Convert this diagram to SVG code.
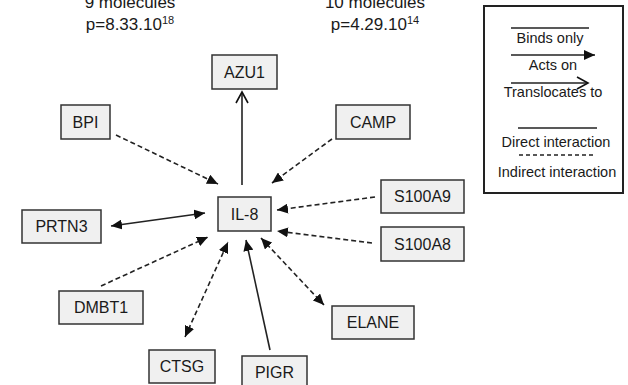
<svg xmlns="http://www.w3.org/2000/svg" width="628" height="385" viewBox="0 0 628 385">
<defs>
<style>
.box{fill:#f0f0f0;stroke:#333;stroke-width:1.5}
.lbl{font-family:"Liberation Sans",Arial,sans-serif;font-size:16px;fill:#1a1a1a;text-anchor:middle}
.hdr{font-family:"Liberation Sans",Arial,sans-serif;font-size:17px;fill:#1a1a1a;text-anchor:middle}
.leg{font-family:"Liberation Sans",Arial,sans-serif;font-size:14.5px;fill:#1a1a1a;text-anchor:middle}
.ln{fill:none;stroke:#222;stroke-width:1.6}
.dash{stroke-dasharray:5,3}
</style>
<marker id="fa" markerWidth="12" markerHeight="10" refX="11" refY="5" orient="auto-start-reverse" markerUnits="userSpaceOnUse">
<path d="M0,0 L11,5 L0,10 Z" fill="#111"/>
</marker>
<marker id="oa" markerWidth="14" markerHeight="14" refX="12" refY="7" orient="auto" markerUnits="userSpaceOnUse">
<path d="M1,1 L12,7 L1,13" fill="none" stroke="#111" stroke-width="1.6"/>
</marker>
</defs>
<rect width="628" height="385" fill="#fff"/>

<g id="headers">
<text class="hdr" x="130" y="8">9 molecules</text>
<text class="hdr" x="130" y="30">p=8.33.10<tspan font-size="11" dy="-6">18</tspan></text>
<text class="hdr" x="375" y="8">10 molecules</text>
<text class="hdr" x="375" y="30">p=4.29.10<tspan font-size="11" dy="-6">14</tspan></text>
</g>

<g id="connectors">
<line class="ln dash" x1="116" y1="135" x2="218" y2="184" marker-end="url(#fa)"/>
<line class="ln" x1="242" y1="185" x2="242" y2="92" marker-end="url(#oa)"/>
<line class="ln dash" x1="332" y1="139" x2="272" y2="183" marker-end="url(#fa)"/>
<line class="ln dash" x1="375" y1="197" x2="277" y2="210" marker-end="url(#fa)"/>
<line class="ln dash" x1="372" y1="243" x2="277" y2="231" marker-end="url(#fa)"/>
<line class="ln dash" x1="261" y1="238" x2="324" y2="305" marker-start="url(#fa)" marker-end="url(#fa)"/>
<line class="ln" x1="270" y1="350" x2="246" y2="240" marker-end="url(#fa)"/>
<line class="ln dash" x1="185" y1="337" x2="228" y2="242" marker-start="url(#fa)" marker-end="url(#fa)"/>
<line class="ln dash" x1="101" y1="286" x2="208" y2="237" marker-end="url(#fa)"/>
<line class="ln" x1="111" y1="226" x2="205" y2="213" marker-start="url(#fa)" marker-end="url(#fa)"/>
</g>

<g id="IL-8"><rect class="box" x="218" y="197" width="53" height="34"/><text class="lbl" x="244.5" y="219.5">IL-8</text></g>
<g id="AZU1"><rect class="box" x="212" y="55" width="65" height="34"/><text class="lbl" x="244.5" y="77.5">AZU1</text></g>
<g id="BPI"><rect class="box" x="61" y="105" width="49" height="34"/><text class="lbl" x="85.5" y="127.5">BPI</text></g>
<g id="CAMP"><rect class="box" x="336" y="105" width="74" height="34"/><text class="lbl" x="373" y="127.5">CAMP</text></g>
<g id="S100A9"><rect class="box" x="381" y="180" width="83" height="33"/><text class="lbl" x="422.5" y="202">S100A9</text></g>
<g id="S100A8"><rect class="box" x="381" y="227" width="83" height="34"/><text class="lbl" x="422.5" y="249.5">S100A8</text></g>
<g id="PRTN3"><rect class="box" x="22" y="210" width="79" height="33"/><text class="lbl" x="61.5" y="232">PRTN3</text></g>
<g id="DMBT1"><rect class="box" x="59" y="291" width="84" height="33"/><text class="lbl" x="101" y="313">DMBT1</text></g>
<g id="ELANE"><rect class="box" x="332" y="306" width="82" height="33"/><text class="lbl" x="373" y="328">ELANE</text></g>
<g id="CTSG"><rect class="box" x="149" y="350" width="66" height="33"/><text class="lbl" x="182" y="372">CTSG</text></g>
<g id="PIGR"><rect class="box" x="242" y="356" width="65" height="34"/><text class="lbl" x="274.5" y="378">PIGR</text></g>

<g id="legend">
<rect x="484" y="6" width="139" height="187" fill="#fff" stroke="#222" stroke-width="2"/>
<line class="ln" x1="511" y1="28" x2="589" y2="28"/>
<text class="leg" x="550" y="43">Binds only</text>
<line class="ln" x1="511" y1="55" x2="595" y2="55" marker-end="url(#fa)"/>
<text class="leg" x="553" y="70">Acts on</text>
<line class="ln" x1="511" y1="83" x2="588" y2="83" marker-end="url(#oa)"/>
<text class="leg" x="553" y="97">Translocates to</text>
<line class="ln" x1="518" y1="128" x2="597" y2="128"/>
<text class="leg" x="556" y="147">Direct interaction</text>
<line class="ln" x1="519" y1="155" x2="595" y2="155" stroke-dasharray="4,3"/>
<text class="leg" x="557" y="177">Indirect interaction</text>
</g>
</svg>
